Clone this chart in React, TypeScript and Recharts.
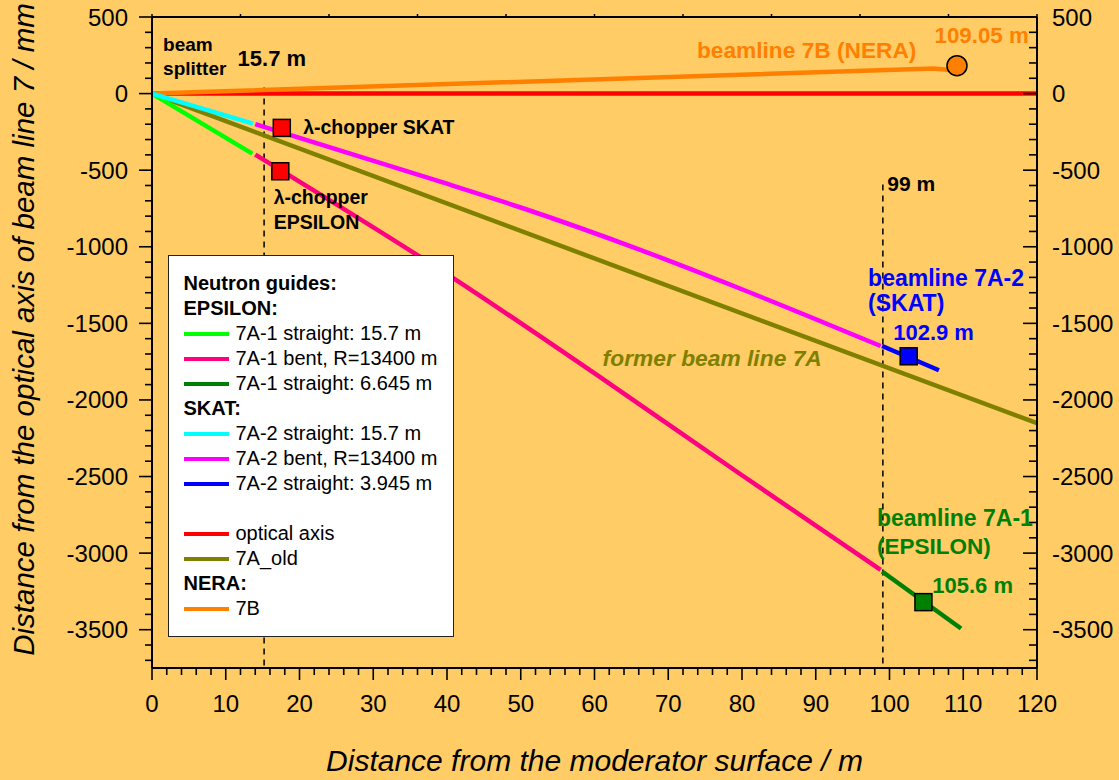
import React from "react"
import { ComposedChart, Line, XAxis, YAxis, ReferenceDot, Legend } from "recharts"

const BG = "#FFCC66"
const FONT = "'Liberation Sans', Arial, Helvetica, sans-serif"

// x: distance from moderator surface (m), y: distance from optical axis (mm)
const opticalAxis = [{ x: 0, y: 0 }, { x: 120, y: 0 }]
const line7B = [{ x: 0, y: 0 }, { x: 106, y: 164 }, { x: 108.5, y: 152 }]
const line7AOld = [{ x: 0, y: 0 }, { x: 120, y: -2152 }]
const guide7A1Straight = [{ x: 0, y: 0 }, { x: 13.6, y: -392 }]
const guide7A1Bent = [
  { x: 14, y: -398 },
  { x: 41.1, y: -1213 },
  { x: 61.2, y: -1866 },
  { x: 79.8, y: -2485 },
  { x: 98.8, y: -3110 },
]
const guide7A1End = [{ x: 99, y: -3120 }, { x: 109.7, y: -3492 }]
const guide7A2Straight = [{ x: 0, y: 0 }, { x: 13.7, y: -196 }]
const guide7A2Bent = [
  { x: 14, y: -200 },
  { x: 39.1, y: -575 },
  { x: 49.9, y: -742 },
  { x: 66.2, y: -1020 },
  { x: 79.8, y: -1274 },
  { x: 98.8, y: -1648 },
]
const guide7A2End = [{ x: 99, y: -1648 }, { x: 106.7, y: -1806 }]

const splitterLine = [{ x: 15.2, y: 40 }, { x: 15.2, y: -3750 }]
const endLine = [{ x: 99.1, y: -594 }, { x: 99.1, y: -3750 }]

const squares = [
  { x: 17.6, y: -224, color: "#FF0000" },
  { x: 17.4, y: -507, color: "#FF0000" },
  { x: 102.6, y: -1715, color: "#0000FF" },
  { x: 104.6, y: -3320, color: "#008000" },
]
const neraEnd = { x: 109.15, y: 182 }

const xTicks = Array.from({ length: 61 }, (_, i) => i * 2)
const topTicks = [0, 12, 24, 36, 48, 60, 72, 84, 96, 108, 120]
const yTicks = Array.from({ length: 43 }, (_, i) => -3700 + i * 100)

const series = [
  { key: "axis", name: "optical axis", color: "#FF0000", data: opticalAxis },
  { key: "nera", name: "7B", color: "#FF8000", data: line7B },
  { key: "old", name: "7A_old", color: "#808000", data: line7AOld },
  { key: "g1s", name: "7A-1 straight: 15.7 m", color: "#00FF00", data: guide7A1Straight },
  { key: "g1b", name: "7A-1 bent, R=13400 m", color: "#FF0080", data: guide7A1Bent },
  { key: "g1e", name: "7A-1 straight: 6.645 m", color: "#008000", data: guide7A1End },
  { key: "g2s", name: "7A-2 straight: 15.7 m", color: "#00FFFF", data: guide7A2Straight },
  { key: "g2b", name: "7A-2 bent, R=13400 m", color: "#FF00FF", data: guide7A2Bent },
  { key: "g2e", name: "7A-2 straight: 3.945 m", color: "#0000FF", data: guide7A2End },
]

const legendRows: { head?: string; key?: string; gap?: boolean }[] = [
  { head: "Neutron guides:" },
  { head: "EPSILON:" },
  { key: "g1s" },
  { key: "g1b" },
  { key: "g1e" },
  { head: "SKAT:" },
  { key: "g2s" },
  { key: "g2b" },
  { key: "g2e" },
  { gap: true },
  { key: "axis" },
  { key: "old" },
  { head: "NERA:" },
  { key: "nera" },
]

const notes = [
  { x: 1.5, y: 280, text: "beam", color: "#000", size: 19 },
  { x: 1.5, y: 124, text: "splitter", color: "#000", size: 19 },
  { x: 11.6, y: 183, text: "15.7 m", color: "#000", size: 22 },
  { x: 20.5, y: -261, text: "λ-chopper SKAT", color: "#000", size: 19.5 },
  { x: 16.5, y: -724, text: "λ-chopper", color: "#000", size: 19.5 },
  { x: 16.5, y: -887, text: "EPSILON", color: "#000", size: 19.5 },
  { x: 99.7, y: -639, text: "99 m", color: "#000", size: 21 },
  { x: 73.9, y: 235, text: "beamline 7B (NERA)", color: "#FF8000", size: 22.7 },
  { x: 106.1, y: 333, text: "109.05 m", color: "#FF8000", size: 22.3 },
  { x: 97.1, y: -1259, text: "beamline 7A-2", color: "#0000FF", size: 23 },
  { x: 97.1, y: -1422, text: "(SKAT)", color: "#0000FF", size: 23 },
  { x: 100.5, y: -1611, text: "102.9 m", color: "#0000FF", size: 22 },
  { x: 61.1, y: -1780, text: "former beam line 7A", color: "#808000", size: 22.8, italic: true },
  { x: 98.3, y: -2824, text: "beamline 7A-1", color: "#008000", size: 23 },
  { x: 98.3, y: -3007, text: "(EPSILON)", color: "#008000", size: 22.5 },
  { x: 105.8, y: -3261, text: "105.6 m", color: "#008000", size: 22 },
]

function LeftTick({ x, y, payload }: any) {
  const v = payload.value
  const major = v % 500 === 0
  return (
    <g>
      <line x1={x - (major ? 13 : 7)} x2={x} y1={y} y2={y} stroke="#000" strokeWidth={1.6} />
      {major && (
        <text x={x - 24} y={y} dy={8.5} textAnchor="end" fontSize={24} fontFamily={FONT} fill="#000">
          {v}
        </text>
      )}
    </g>
  )
}

function RightTick({ x, y, payload }: any) {
  const v = payload.value
  const major = v % 500 === 0
  return (
    <g>
      <line x1={x - (major ? 14 : 8)} x2={x} y1={y} y2={y} stroke="#000" strokeWidth={1.6} />
      {major && (
        <text x={x + 15} y={y} dy={8.5} textAnchor="start" fontSize={24} fontFamily={FONT} fill="#000">
          {v}
        </text>
      )}
    </g>
  )
}

function BottomTick({ x, y, payload }: any) {
  const v = payload.value
  const major = v % 10 === 0
  return (
    <g>
      <line x1={x} x2={x} y1={y} y2={y + (major ? 12 : 7)} stroke="#000" strokeWidth={1.6} />
      {major && (
        <text x={x} y={y + 44} textAnchor="middle" fontSize={24} fontFamily={FONT} fill="#000">
          {v}
        </text>
      )}
    </g>
  )
}

function TopTick({ x, y }: any) {
  return <line x1={x} x2={x} y1={y - 3} y2={y} stroke="#000" strokeWidth={1.5} />
}

function GuideLegend() {
  return (
    <div
      style={{
        boxSizing: "border-box",
        width: 286,
        height: 382,
        background: "#fff",
        border: "1.5px solid #222",
        padding: "15px 0 0 14.5px",
        fontFamily: FONT,
        fontSize: 20,
        color: "#000",
      }}
    >
      {legendRows.map((r, i) => {
        if (r.gap) return <div key={i} style={{ height: 25 }} />
        if (r.head)
          return (
            <div key={i} style={{ height: 25, lineHeight: "25px", fontWeight: "bold", whiteSpace: "nowrap" }}>
              {r.head}
            </div>
          )
        const s = series.find((d) => d.key === r.key)!
        return (
          <div key={i} style={{ height: 25, lineHeight: "25px", display: "flex", alignItems: "center", whiteSpace: "nowrap" }}>
            <span style={{ display: "inline-block", width: 45, height: 4, background: s.color, marginRight: 7 }} />
            <span>{s.name}</span>
          </div>
        )
      })}
    </div>
  )
}

export default function App() {
  return (
    <div style={{ position: "absolute", left: 0, top: 0, width: 1119, height: 780, background: BG }}>
      <ComposedChart width={1119} height={780} margin={{ top: 0, right: 0, bottom: 0, left: 0 }}>
        <XAxis
          dataKey="x"
          type="number"
          domain={[0, 120]}
          ticks={xTicks}
          interval={0}
          allowDataOverflow
          height={112}
          tickSize={0}
          tickMargin={0}
          tickLine={false}
          axisLine={{ stroke: "#000", strokeWidth: 2 }}
          tick={BottomTick}
          label={{
            content: (p: any) => {
              const vb = p.viewBox || { x: 152, y: 668, width: 885 }
              return (
                <text
                  x={vb.x + vb.width / 2}
                  y={vb.y + 103}
                  textAnchor="middle"
                  fontSize={30}
                  fontStyle="italic"
                  fontFamily={FONT}
                  fill="#000"
                >
                  Distance from the moderator surface / m
                </text>
              )
            },
          }}
        />
        <XAxis
          xAxisId="top"
          orientation="top"
          dataKey="x"
          type="number"
          domain={[0, 120]}
          ticks={topTicks}
          interval={0}
          allowDataOverflow
          height={17}
          tickSize={0}
          tickMargin={0}
          tickLine={false}
          axisLine={{ stroke: "#000", strokeWidth: 2 }}
          tick={TopTick}
        />
        <YAxis
          dataKey="y"
          type="number"
          domain={[-3750, 500]}
          ticks={yTicks}
          interval={0}
          allowDataOverflow
          width={152}
          tickSize={0}
          tickMargin={0}
          tickLine={false}
          axisLine={{ stroke: "#000", strokeWidth: 2 }}
          tick={LeftTick}
          label={{
            content: (p: any) => {
              const vb = p.viewBox || { x: 0, y: 17, height: 651 }
              const cy = vb.y + vb.height / 2 - 13
              return (
                <text
                  x={34}
                  y={cy}
                  transform={`rotate(-90 34 ${cy})`}
                  textAnchor="middle"
                  fontSize={29.5}
                  fontStyle="italic"
                  fontFamily={FONT}
                  fill="#000"
                >
                  Distance from the optical axis of beam line 7 / mm
                </text>
              )
            },
          }}
        />
        <YAxis
          yAxisId="right"
          orientation="right"
          type="number"
          domain={[-3750, 500]}
          ticks={yTicks}
          interval={0}
          allowDataOverflow
          width={82}
          tickSize={0}
          tickMargin={0}
          tickLine={false}
          axisLine={{ stroke: "#000", strokeWidth: 2 }}
          tick={RightTick}
        />

        <Line
          data={splitterLine}
          dataKey="y"
          type="linear"
          stroke="#000"
          strokeWidth={1.5}
          strokeDasharray="6 5"
          dot={false}
          activeDot={false}
          legendType="none"
          isAnimationActive={false}
        />
        <Line
          data={endLine}
          dataKey="y"
          type="linear"
          stroke="#000"
          strokeWidth={1.5}
          strokeDasharray="6 5"
          dot={false}
          activeDot={false}
          legendType="none"
          isAnimationActive={false}
        />
        {series.map((s) => (
          <Line
            key={s.key}
            name={s.name}
            data={s.data}
            dataKey="y"
            type={s.data.length > 3 ? "monotone" : "linear"}
            stroke={s.color}
            strokeWidth={4.5}
            dot={false}
            activeDot={false}
            isAnimationActive={false}
          />
        ))}

        {squares.map((m, i) => (
          <ReferenceDot
            key={`sq-${i}`}
            x={m.x}
            y={m.y}
            r={8}
            shape={(p: any) => (
              <rect x={p.cx - 8.5} y={p.cy - 8.5} width={17} height={17} fill={m.color} stroke="#000" strokeWidth={1.5} />
            )}
          />
        ))}
        <ReferenceDot x={neraEnd.x} y={neraEnd.y} r={10} fill="#FF8000" stroke="#000" strokeWidth={1.5} />

        {notes.map((n, i) => (
          <ReferenceDot
            key={`note-${i}`}
            x={n.x}
            y={n.y}
            r={1}
            shape={(p: any) => (
              <text
                x={p.cx}
                y={p.cy}
                fontSize={n.size}
                fontWeight="bold"
                fontStyle={n.italic ? "italic" : "normal"}
                fontFamily={FONT}
                fill={n.color}
              >
                {n.text}
              </text>
            )}
          />
        ))}

        <Legend
          layout="vertical"
          align="center"
          verticalAlign="middle"
          wrapperStyle={{ left: 168, top: 255, width: 286, height: 382 }}
          content={() => <GuideLegend />}
        />
      </ComposedChart>
    </div>
  )
}
